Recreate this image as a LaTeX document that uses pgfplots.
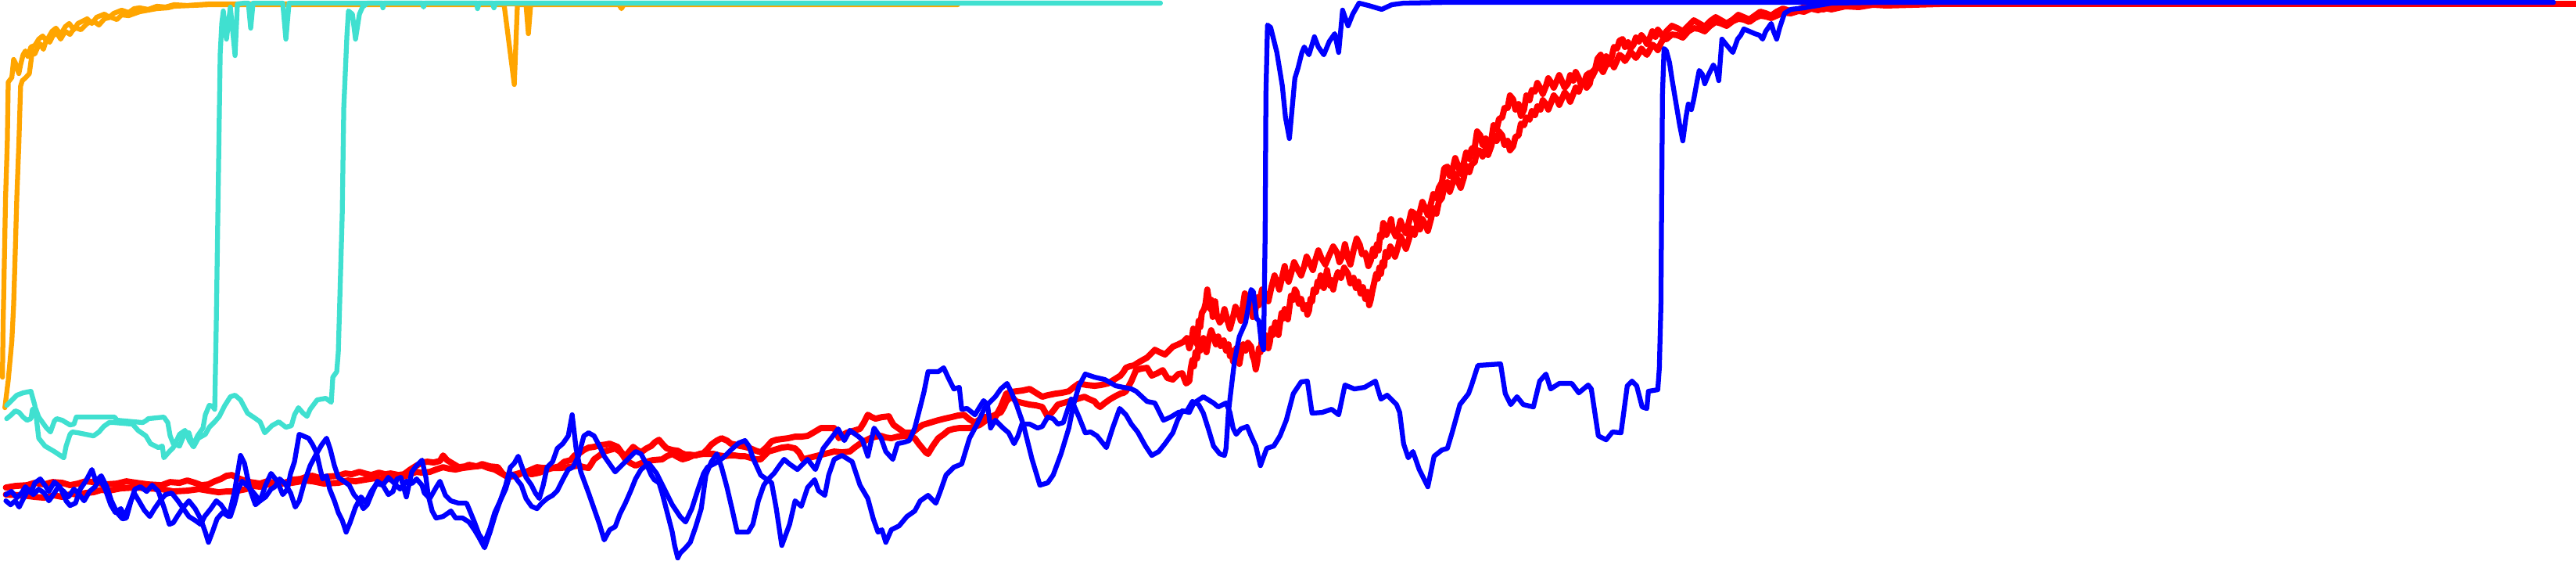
\documentclass[border=0pt]{standalone}
\usepackage{pgfplots}
\pgfplotsset{compat=1.18}
\definecolor{runorange}{RGB}{255,165,0}
\definecolor{runturq}{RGB}{64,224,208}
\definecolor{runred}{RGB}{255,0,0}
\definecolor{runblue}{RGB}{0,0,255}
\begin{document}
\begin{tikzpicture}
\begin{axis}[
    width=1000pt, height=218.28pt, scale only axis,
    xmin=0, xmax=3294, ymin=0, ymax=719, y dir=reverse,
    hide axis, clip=true,
    every axis plot/.append style={line width=1.9pt, line join=round, line cap=round, no markers}]

% orange runs
\addplot[runorange] coordinates {(3.6,482) (4.5,413) (5.4,367) (7.6,252) (9.8,183) (11,105) (12.5,103) (15.6,99) (17.9,76) (20,80) (22,87) (24.6,94) (27,82) (30,70) (33,65) (36,72) (40,60) (45,58) (50,50) (55,46) (60,52) (67,40) (72,36) (78,44) (84,34) (89,30) (95,38) (100,30) (106,27) (112,24) (118,30) (124,22) (134,18) (140,22) (146,17) (156,13) (165,16) (172,11) (179,10) (190,12) (201,8) (212,9) (223,6) (240,7) (268,5) (300,5) (1225,5)};
\addplot[runorange] coordinates {(6.7,521) (11,486) (15.6,436) (17.9,390) (20,321) (22,252) (24.6,183) (26.8,110) (29,103) (33.5,99) (38,94) (42,64) (45,69) (48,62) (52,56) (56,63) (60,50) (64,54) (68,46) (73,42) (78,50) (84,40) (90,44) (96,35) (104,38) (112,30) (120,27) (127,32) (134,24) (142,22) (150,25) (156,19) (165,20) (179,15) (190,13) (201,11) (215,10) (223,8) (245,7) (268,6) (300,6) (645,6) (658,108) (662,6) (673,6) (676,43) (679,6) (792,6) (795,11) (798,6) (1225,6)};

% turquoise runs
\addplot[runturq] coordinates {(9,518) (22,505) (30,502) (40,500) (45,518) (50,560) (58,570) (70,577) (82,585) (85,570) (90,555) (93,552) (100,553) (120,557) (127,552) (133,545) (140,540) (147,540) (170,542) (177,550) (187,557) (193,567) (203,572) (208,570) (210,585) (217,577) (222,572) (230,555) (237,550) (243,564) (248,571) (254,560) (263,555) (268,546) (275,539) (281,532) (288,518) (295,507) (301,505) (308,511) (317,528) (326,534) (333,539) (339,553) (348,544) (357,539) (366,546) (373,544) (377,530) (382,521) (388,528) (393,532) (397,523) (406,511) (417,509) (424,514) (426,482) (431,475) (433,450) (438,275) (440,138) (442,92) (444,46) (446,14) (451,18) (455,50) (460,18) (464,9) (470,4) (1484,4)};
\addplot[runturq] coordinates {(9,535) (15,530) (20,525) (25,527) (30,533) (35,537) (40,535) (42,523) (46,522) (50,533) (55,540) (60,547) (65,552) (70,538) (73,535) (80,537) (90,543) (95,542) (98,533) (147,533) (150,537) (183,540) (188,537) (190,535) (210,533) (215,540) (218,557) (222,567) (230,570) (237,553) (242,553) (247,570) (253,557) (260,547) (263,530) (268,518) (272,519) (275,523) (277,413) (279,275) (281,138) (282,69) (284,30) (286,14) (290,50) (295,9) (301,71) (304,5) (313,4) (318,4) (321,36) (324,4) (362,4) (366,50) (370,4) (489,4) (490,10) (492,4) (540,4) (542,9) (544,4) (610,4) (611,11) (613,4) (630,4) (632,10) (634,4) (1484,4)};

% red runs
\addplot[runred, line width=2.4pt] coordinates {(8,623) (20,621) (35,620) (45,617) (57,619) (68,616) (80,617) (90,620) (100,618) (110,615) (120,616) (135,619) (150,618) (162,615) (175,617) (190,619) (207,620) (218,616) (230,617) (240,614) (250,617) (258,620) (267,619) (275,615) (283,612) (290,608) (297,607) (305,611) (310,613) (320,616) (333,618) (342,615) (350,617) (358,619) (367,616) (375,613) (385,612) (393,609) (400,608) (410,611) (420,609) (433,608) (442,605) (450,606) (460,603) (467,605) (475,607) (485,604) (493,606) (500,605) (510,607) (517,606) (525,600) (533,595) (540,591) (547,590) (555,591) (563,589) (567,582) (572,588) (577,591) (587,597) (595,596) (600,594) (610,596) (617,593) (627,596) (637,597) (643,605) (647,608) (655,607) (660,606) (670,603) (680,606) (690,604) (700,600) (707,598) (715,596) (722,590) (730,588) (735,582) (740,580) (747,575) (753,572) (760,571) (767,569) (775,568) (780,567) (785,569) (790,571) (795,578) (800,583) (805,577) (810,571) (815,575) (820,578) (827,573) (833,570) (838,565) (843,562) (848,568) (853,573) (860,575) (867,576) (872,579) (877,581) (883,581) (890,582) (895,580) (900,579) (905,574) (910,568) (917,563) (923,560) (930,563) (935,567) (940,568) (947,570) (953,571) (960,573) (967,576) (973,578) (980,572) (987,564) (993,562) (1000,561) (1008,560) (1017,558) (1025,558) (1033,557) (1040,553) (1050,547) (1058,547) (1067,547) (1070,553) (1073,560) (1078,556) (1083,553) (1090,551) (1100,548) (1105,540) (1110,530) (1115,533) (1120,535) (1128,533) (1137,532) (1140,538) (1143,543) (1150,548) (1157,553) (1162,553) (1167,553) (1173,548) (1180,543) (1190,540) (1200,537) (1208,535) (1217,533) (1225,531) (1233,530) (1240,536) (1247,540) (1253,536) (1260,533) (1267,533) (1273,533) (1280,520) (1287,503) (1293,501) (1300,500) (1308,499) (1317,497) (1325,502) (1333,507) (1340,505) (1350,503) (1358,502) (1367,500) (1373,495) (1380,490) (1390,492) (1400,493) (1408,492) (1417,490) (1425,485) (1433,480) (1437,475) (1440,470) (1445,468) (1450,467) (1458,462) (1467,457) (1472,452) (1477,447) (1483,450) (1490,453) (1495,448) (1500,443) (1507,440) (1513,437) (1518,432) (1521,445) (1524,435) (1526,420) (1528,427) (1531,440) (1533,410) (1535,418) (1537,400) (1540,395) (1542,387) (1544,370) (1546,383) (1548,395) (1549,383) (1551,405) (1552,395) (1554,385) (1556,402) (1560,412) (1563,408) (1566,395) (1570,410) (1573,420) (1577,405) (1580,392) (1584,400) (1587,410) (1590,388) (1592,375) (1595,380) (1597,392) (1600,385) (1602,405) (1605,400) (1608,380) (1610,390) (1614,370) (1618,375) (1622,385) (1626,367) (1630,352) (1633,360) (1636,370) (1640,353) (1643,340) (1645,352) (1648,360) (1651,350) (1655,335) (1660,345) (1664,352) (1668,340) (1671,328) (1675,336) (1679,345) (1682,333) (1686,320) (1690,330) (1695,338) (1700,326) (1705,315) (1710,323) (1713,335) (1717,327) (1720,312) (1724,330) (1727,338) (1731,320) (1735,305) (1739,313) (1742,325) (1746,323) (1750,340) (1753,333) (1756,318) (1758,327) (1761,312) (1763,320) (1765,300) (1767,303) (1769,285) (1770,287) (1773,300) (1776,292) (1779,280) (1781,293) (1785,302) (1788,295) (1791,282) (1795,293) (1798,298) (1802,283) (1805,270) (1809,273) (1812,285) (1816,270) (1819,258) (1823,267) (1826,275) (1830,260) (1833,248) (1837,253) (1840,240) (1844,233) (1847,215) (1851,213) (1854,225) (1858,215) (1861,202) (1865,213) (1868,222) (1872,208) (1875,195) (1879,203) (1882,190) (1886,188) (1889,168) (1893,173) (1896,185) (1900,177) (1903,190) (1907,180) (1910,160) (1914,165) (1917,152) (1921,150) (1924,138) (1928,138) (1931,122) (1935,127) (1938,140) (1942,133) (1945,148) (1949,140) (1952,122) (1956,128) (1959,115) (1963,117) (1966,106) (1970,113) (1973,120) (1977,110) (1980,100) (1984,106) (1987,112) (1991,103) (1994,96) (1998,105) (2001,112) (2005,107) (2008,96) (2012,103) (2015,92) (2019,100) (2022,108) (2026,104) (2029,112) (2033,107) (2036,92) (2040,88) (2043,75) (2047,70) (2050,80) (2054,72) (2057,82) (2061,73) (2064,60) (2068,62) (2071,52) (2075,50) (2078,60) (2082,54) (2085,62) (2089,57) (2092,48) (2096,53) (2099,45) (2103,50) (2106,56) (2110,48) (2113,40) (2117,47) (2120,38) (2124,43) (2127,48) (2131,40) (2138,33) (2145,36) (2152,40) (2159,33) (2166,26) (2173,30) (2180,34) (2187,27) (2194,22) (2201,26) (2208,30) (2216,25) (2223,19) (2230,22) (2237,25) (2244,20) (2251,15) (2258,17) (2265,20) (2272,15) (2280,11) (2286,13) (2293,15) (2300,12) (2310,8) (2321,10) (2332,12) (2342,8) (2360,6) (2377,8) (2395,5) (2412,6) (2447,5) (2482,5) (2600,5) (3294,5)};
\addplot[runred, line width=2.4pt] coordinates {(8,632) (30,633) (45,635) (57,636) (70,633) (80,635) (92,631) (100,632) (110,630) (120,629) (130,626) (140,627) (155,624) (173,623) (190,624) (207,625) (222,628) (240,627) (255,625) (267,627) (280,629) (290,628) (300,628) (315,625) (325,621) (333,622) (342,619) (350,620) (360,617) (367,618) (380,616) (390,614) (400,615) (415,618) (433,617) (445,614) (455,615) (467,613) (480,611) (490,613) (500,612) (510,610) (520,608) (527,605) (533,603) (540,604) (550,603) (558,600) (567,597) (575,599) (583,600) (592,598) (600,597) (608,596) (617,595) (625,598) (633,600) (640,604) (647,608) (653,609) (660,608) (667,605) (673,603) (680,600) (687,597) (695,598) (707,598) (717,598) (727,597) (733,596) (740,595) (747,597) (753,598) (757,592) (760,587) (767,582) (773,577) (780,575) (787,573) (793,577) (797,582) (800,587) (807,592) (813,595) (820,592) (827,590) (835,588) (847,587) (853,583) (860,580) (867,584) (873,587) (880,585) (887,582) (893,581) (900,580) (907,580) (913,580) (920,582) (927,583) (933,582) (940,582) (947,583) (953,583) (960,585) (967,587) (973,587) (978,582) (983,577) (990,575) (1000,572) (1008,571) (1017,573) (1022,578) (1027,587) (1035,585) (1043,583) (1055,580) (1067,577) (1077,578) (1087,577) (1093,572) (1100,567) (1107,563) (1113,560) (1120,558) (1127,557) (1133,559) (1140,560) (1148,558) (1157,557) (1163,558) (1170,560) (1175,567) (1180,573) (1184,578) (1187,580) (1193,570) (1200,560) (1207,555) (1213,550) (1220,548) (1227,547) (1233,547) (1240,547) (1247,545) (1253,543) (1260,538) (1267,533) (1273,530) (1280,527) (1284,520) (1287,513) (1290,510) (1293,507) (1297,510) (1300,513) (1308,515) (1317,517) (1325,518) (1333,520) (1337,527) (1340,533) (1347,525) (1353,517) (1360,515) (1367,513) (1377,510) (1387,507) (1393,510) (1400,513) (1403,517) (1407,520) (1413,515) (1420,510) (1427,506) (1433,503) (1437,502) (1440,500) (1447,487) (1453,473) (1460,471) (1467,470) (1470,475) (1473,480) (1480,477) (1487,473) (1493,483) (1500,485) (1507,478) (1512,477) (1517,490) (1521,487) (1523,470) (1525,460) (1527,468) (1529,450) (1531,458) (1533,440) (1535,448) (1537,442) (1539,432) (1541,443) (1543,450) (1546,433) (1549,422) (1552,430) (1555,440) (1558,430) (1561,442) (1565,435) (1568,448) (1571,440) (1573,455) (1575,448) (1577,462) (1579,457) (1581,445) (1583,455) (1585,465) (1587,453) (1590,440) (1593,448) (1596,438) (1600,443) (1602,455) (1604,460) (1606,472) (1608,462) (1610,445) (1612,450) (1614,432) (1616,440) (1618,428) (1620,438) (1622,445) (1624,437) (1626,420) (1628,428) (1631,412) (1633,420) (1635,428) (1637,413) (1639,400) (1641,407) (1643,395) (1645,400) (1647,408) (1649,393) (1651,378) (1654,383) (1656,370) (1658,373) (1661,388) (1664,382) (1667,395) (1670,390) (1672,402) (1674,397) (1676,382) (1678,385) (1680,370) (1683,373) (1685,360) (1687,366) (1689,352) (1691,360) (1693,368) (1695,358) (1697,345) (1699,357) (1701,365) (1703,358) (1705,370) (1707,360) (1711,348) (1715,355) (1719,342) (1724,350) (1727,362) (1731,355) (1734,368) (1737,360) (1740,375) (1743,367) (1746,382) (1749,373) (1751,390) (1753,383) (1755,372) (1757,363) (1760,350) (1762,356) (1764,342) (1766,350) (1768,335) (1770,340) (1772,322) (1775,328) (1778,315) (1781,320) (1784,328) (1788,315) (1791,302) (1795,310) (1798,318) (1802,305) (1805,292) (1809,300) (1812,288) (1816,293) (1819,280) (1823,287) (1826,295) (1830,280) (1833,266) (1837,273) (1840,258) (1844,253) (1847,238) (1851,233) (1854,245) (1858,233) (1861,222) (1865,233) (1868,240) (1872,227) (1875,212) (1879,220) (1882,210) (1886,207) (1889,192) (1893,193) (1896,200) (1900,190) (1903,198) (1907,187) (1910,175) (1914,180) (1917,168) (1921,173) (1924,185) (1928,180) (1931,192) (1935,187) (1938,175) (1942,173) (1945,158) (1949,160) (1952,150) (1956,153) (1959,142) (1963,147) (1966,136) (1970,140) (1973,128) (1977,133) (1980,140) (1984,130) (1987,122) (1991,127) (1994,134) (1998,125) (2001,118) (2005,123) (2008,130) (2012,120) (2015,112) (2019,117) (2022,108) (2026,105) (2029,96) (2033,93) (2036,98) (2040,90) (2043,82) (2047,87) (2050,92) (2054,83) (2057,76) (2061,80) (2064,86) (2068,77) (2071,70) (2075,73) (2078,78) (2082,72) (2085,66) (2089,70) (2092,74) (2096,68) (2099,62) (2103,67) (2106,70) (2110,63) (2113,57) (2117,60) (2120,64) (2124,55) (2127,50) (2131,50) (2138,44) (2145,45) (2152,48) (2159,40) (2166,36) (2173,37) (2180,40) (2187,33) (2194,28) (2201,30) (2208,33) (2216,27) (2223,24) (2230,25) (2237,28) (2244,23) (2251,20) (2258,21) (2265,23) (2272,20) (2280,16) (2290,17) (2300,14) (2307,15) (2316,11) (2325,13) (2333,10) (2342,12) (2360,8) (2377,9) (2395,6) (2412,7) (2447,6) (2482,5) (2550,5) (3294,5)};

% blue runs
\addplot[runblue] coordinates {(8,632) (15,628) (22,636) (28,630) (33,622) (40,630) (45,617) (52,612) (58,620) (63,628) (70,616) (77,622) (85,640) (90,646) (97,643) (103,625) (110,615) (118,600) (123,615) (130,608) (137,622) (143,640) (150,655) (157,663) (162,662) (168,640) (173,625) (180,622) (188,628) (195,620) (203,628) (210,648) (217,670) (222,668) (227,660) (235,648) (242,640) (250,650) (257,663) (263,680) (267,693) (272,680) (278,663) (285,655) (293,660) (300,630) (305,600) (308,582) (313,592) (320,625) (327,645) (333,640) (340,620) (347,605) (355,615) (362,632) (368,625) (372,605) (377,590) (383,555) (388,557) (395,560) (400,568) (405,578) (410,600) (413,612) (418,608) (422,625) (428,640) (433,655) (438,665) (443,680) (448,668) (455,648) (462,635) (468,642) (475,628) (482,618) (490,620) (497,632) (503,628) (508,612) (513,610) (520,635) (527,603) (533,595) (540,588) (545,610) (548,633) (553,653) (558,662) (567,660) (577,653) (583,662) (592,662) (600,667) (607,677) (613,687) (620,700) (627,680) (633,660) (640,640) (647,620) (653,597) (658,592) (663,583) (668,597) (673,610) (680,620) (685,630) (690,637) (695,620) (700,597) (707,590) (713,573) (720,567) (727,557) (732,530) (737,573) (743,603) (753,630) (760,650) (767,670) (773,690) (780,677) (787,673) (793,657) (800,643) (807,627) (813,612) (820,600) (830,592) (840,605) (850,625) (860,645) (870,660) (877,667) (885,650) (893,625) (900,605) (905,597) (915,592) (925,585) (935,575) (945,566) (953,563) (958,570) (963,585) (973,607) (987,617) (993,650) (1000,697) (1010,670) (1017,640) (1025,647) (1033,623) (1042,613) (1047,627) (1055,633) (1060,607) (1067,587) (1077,582) (1090,590) (1100,620) (1110,637) (1117,663) (1123,680) (1128,677) (1133,693) (1140,677) (1150,672) (1160,660) (1170,653) (1177,640) (1187,633) (1197,643) (1203,627) (1210,607) (1220,597) (1230,593) (1240,560) (1247,547) (1253,535) (1260,520) (1267,513) (1273,507) (1280,497) (1288,490) (1293,500) (1300,517) (1307,537) (1310,547) (1320,587) (1330,620) (1340,617) (1347,607) (1357,580) (1367,547) (1373,517) (1380,493) (1388,478) (1400,482) (1413,485) (1427,493) (1447,497) (1453,500) (1467,513) (1477,515) (1483,527) (1488,537) (1497,533) (1507,527) (1518,525) (1525,513) (1533,517) (1539,528) (1546,550) (1552,570) (1560,580) (1566,582) (1568,573) (1571,527) (1575,493) (1579,460) (1585,430) (1593,412) (1598,383) (1600,370) (1603,373) (1607,407) (1610,410) (1613,437) (1616,447) (1618,300) (1619,120) (1621,32) (1625,35) (1633,67) (1640,110) (1644,150) (1649,177) (1653,133) (1656,100) (1660,87) (1665,67) (1668,60) (1674,70) (1681,47) (1686,60) (1693,70) (1700,53) (1707,43) (1712,67) (1717,13) (1724,33) (1730,18) (1738,4) (1750,7) (1767,12) (1780,6) (1795,4) (1850,3) (3265,3)};
\addplot[runblue] coordinates {(8,640) (14,645) (20,640) (25,648) (30,638) (37,625) (43,632) (50,625) (57,630) (63,640) (70,630) (75,622) (82,628) (88,635) (95,625) (102,632) (108,640) (115,628) (122,622) (128,612) (135,625) (142,645) (148,655) (155,650) (160,660) (167,642) (172,630) (178,640) (185,652) (192,660) (198,650) (205,640) (212,632) (220,630) (228,640) (235,650) (242,660) (250,665) (257,670) (262,660) (270,650) (277,640) (283,645) (290,655) (295,660) (300,645) (305,625) (310,615) (318,622) (325,630) (333,640) (340,635) (347,625) (352,622) (358,612) (365,618) (372,630) (378,648) (383,640) (390,615) (397,595) (405,580) (412,568) (418,560) (423,575) (428,595) (433,610) (440,615) (447,620) (453,632) (460,640) (465,650) (470,645) (477,628) (483,615) (490,620) (497,610) (505,618) (512,625) (520,615) (527,618) (533,612) (540,620) (543,630) (550,637) (558,623) (563,615) (570,633) (577,640) (587,643) (597,643) (600,650) (607,667) (613,683) (620,693) (627,675) (633,655) (640,640) (647,625) (653,605) (658,608) (663,615) (667,620) (673,637) (680,647) (687,650) (693,643) (700,637) (707,633) (713,627) (720,613) (727,600) (733,597) (740,583) (747,557) (753,553) (760,557) (767,570) (773,583) (780,593) (787,603) (793,597) (800,590) (807,583) (813,577) (820,580) (827,593) (833,607) (837,613) (843,617) (847,630) (853,653) (860,680) (863,697) (867,713) (870,707) (877,700) (883,693) (890,673) (897,650) (903,607) (910,590) (917,580) (923,597) (930,623) (937,653) (943,680) (957,680) (963,670) (970,640) (977,620) (983,612) (990,605) (997,595) (1003,587) (1010,593) (1020,600) (1033,587) (1043,600) (1053,573) (1067,555) (1072,548) (1080,563) (1087,550) (1097,557) (1103,562) (1110,583) (1118,547) (1127,560) (1133,577) (1142,587) (1148,567) (1157,565) (1163,563) (1170,547) (1177,520) (1182,500) (1187,475) (1193,475) (1200,475) (1207,470) (1213,483) (1220,497) (1227,495) (1230,523) (1237,522) (1247,530) (1253,520) (1258,512) (1263,517) (1267,547) (1273,537) (1283,547) (1290,553) (1297,567) (1302,557) (1307,542) (1317,542) (1327,547) (1333,545) (1340,533) (1347,535) (1353,542) (1360,540) (1370,510) (1380,533) (1388,553) (1395,552) (1403,557) (1415,572) (1423,547) (1432,522) (1440,530) (1447,542) (1455,552) (1465,570) (1473,582) (1482,577) (1490,567) (1500,553) (1506,537) (1512,525) (1521,527) (1527,515) (1539,507) (1552,515) (1558,520) (1568,515) (1573,527) (1577,547) (1581,555) (1587,548) (1595,545) (1600,557) (1606,570) (1612,595) (1620,573) (1629,570) (1637,557) (1645,537) (1654,503) (1664,488) (1672,487) (1678,528) (1691,527) (1703,523) (1712,530) (1720,492) (1732,497) (1745,495) (1759,487) (1766,510) (1774,505) (1786,517) (1790,527) (1795,567) (1801,585) (1807,577) (1815,600) (1826,622) (1834,583) (1844,575) (1851,573) (1857,553) (1867,517) (1878,503) (1882,492) (1890,467) (1919,465) (1925,503) (1932,517) (1940,507) (1948,517) (1961,520) (1969,487) (1977,478) (1983,497) (1994,490) (2010,490) (2019,502) (2031,492) (2035,497) (2044,557) (2054,562) (2062,552) (2073,553) (2081,493) (2087,487) (2093,493) (2100,520) (2106,522) (2108,500) (2120,498) (2122,470) (2124,390) (2125,250) (2126,120) (2128,62) (2131,65) (2135,80) (2138,100) (2143,130) (2148,160) (2152,180) (2156,150) (2159,133) (2163,140) (2166,127) (2170,105) (2173,90) (2177,95) (2180,107) (2185,95) (2191,83) (2195,90) (2198,103) (2202,50) (2206,55) (2210,60) (2216,67) (2222,50) (2226,45) (2230,37) (2237,40) (2244,43) (2250,45) (2254,50) (2258,40) (2265,30) (2268,40) (2272,50) (2276,35) (2282,17) (2290,12) (2307,10) (2342,4) (2400,3) (3265,3)};
\end{axis}
\end{tikzpicture}
\end{document}
